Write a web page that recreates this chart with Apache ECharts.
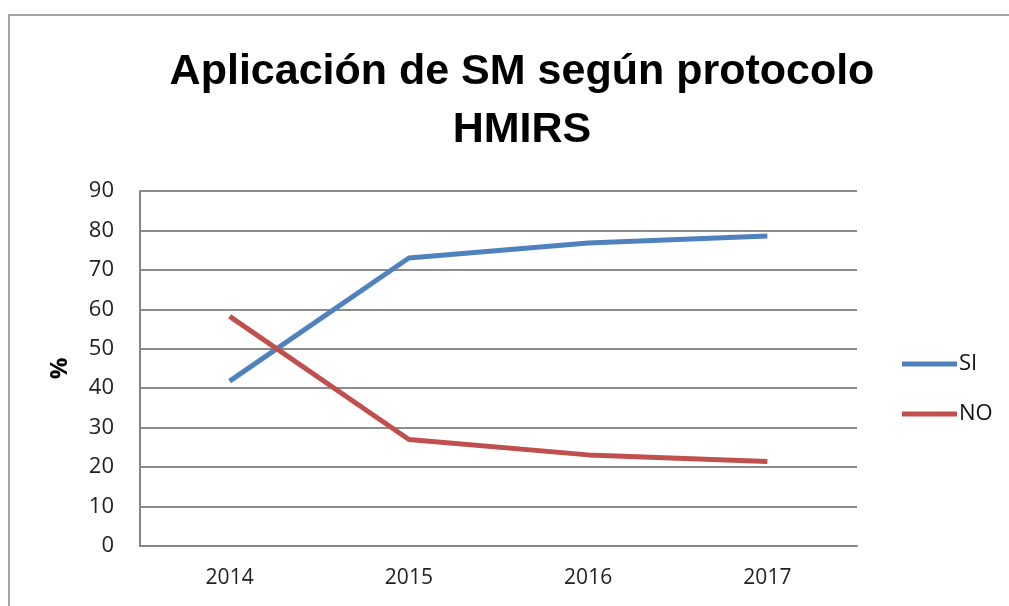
<!DOCTYPE html>
<html>
<head>
<meta charset="utf-8">
<script src="https://cdn.jsdelivr.net/npm/echarts@6/dist/echarts.min.js"></script>
<style>
  html, body { margin: 0; padding: 0; background: #fff; }
  #line-chart { width: 1009px; height: 606px; }
</style>
</head>
<body>
<div id="line-chart"></div>
<script>
const years = ['2014', '2015', '2016', '2017'];
const siValues = [41.8, 73, 76.8, 78.6];
const noValues = [58.2, 27, 23.1, 21.4];

const chart = echarts.init(document.getElementById('line-chart'));

chart.setOption({
  animation: false,
  // marco del gráfico (tipo Excel)
  graphic: [{
    type: 'rect',
    shape: { x: 9, y: 15, width: 1100, height: 700 },
    style: { fill: 'none', stroke: '#a6a6a6', lineWidth: 2 },
    silent: true
  }],
  title: {
    text: 'Aplicación de SM según protocolo\nHMIRS',
    left: 517,
    textAlign: 'center',
    top: 38,
    textStyle: {
      fontFamily: 'Liberation Sans',
      fontWeight: 'bold',
      fontSize: 43,
      lineHeight: 58,
      color: '#000'
    }
  },
  grid: { left: 140, right: 152, top: 191, bottom: 60 },
  legend: {
    orient: 'vertical',
    left: 897,
    top: 347,
    itemWidth: 55,
    itemHeight: 5,
    itemGap: 26,
    icon: 'rect',
    textStyle: { fontFamily: 'Open Sans', fontSize: 22, color: '#111', lineHeight: 24, padding: [0, 0, 0, -3] },
    data: ['SI', 'NO']
  },
  xAxis: {
    type: 'category',
    data: years,
    boundaryGap: true,
    axisLine: { lineStyle: { color: '#868686', width: 2 } },
    axisTick: { show: false },
    axisLabel: { fontFamily: 'Open Sans', fontSize: 21, color: '#222', margin: 22 }
  },
  yAxis: {
    type: 'value',
    min: 0,
    max: 90,
    interval: 10,
    name: '%',
    nameLocation: 'middle',
    nameRotate: 90,
    nameGap: 68,
    nameTextStyle: { fontFamily: 'Open Sans', fontWeight: 'bold', fontSize: 24, color: '#000' },
    axisLine: { show: true, lineStyle: { color: '#868686', width: 2 } },
    axisTick: { show: false },
    splitLine: { lineStyle: { color: '#8c8c8c', width: 2 } },
    axisLabel: { fontFamily: 'Open Sans', fontSize: 22, color: '#222', margin: 26 }
  },
  series: [
    {
      name: 'SI',
      type: 'line',
      data: siValues,
      symbol: 'none',
      color: '#4f81bd',
      lineStyle: { width: 5 }
    },
    {
      name: 'NO',
      type: 'line',
      data: noValues,
      symbol: 'none',
      color: '#c0504d',
      lineStyle: { width: 5 }
    }
  ]
});

window.onresize = function () {
  chart.resize();
};
</script>
</body>
</html>
